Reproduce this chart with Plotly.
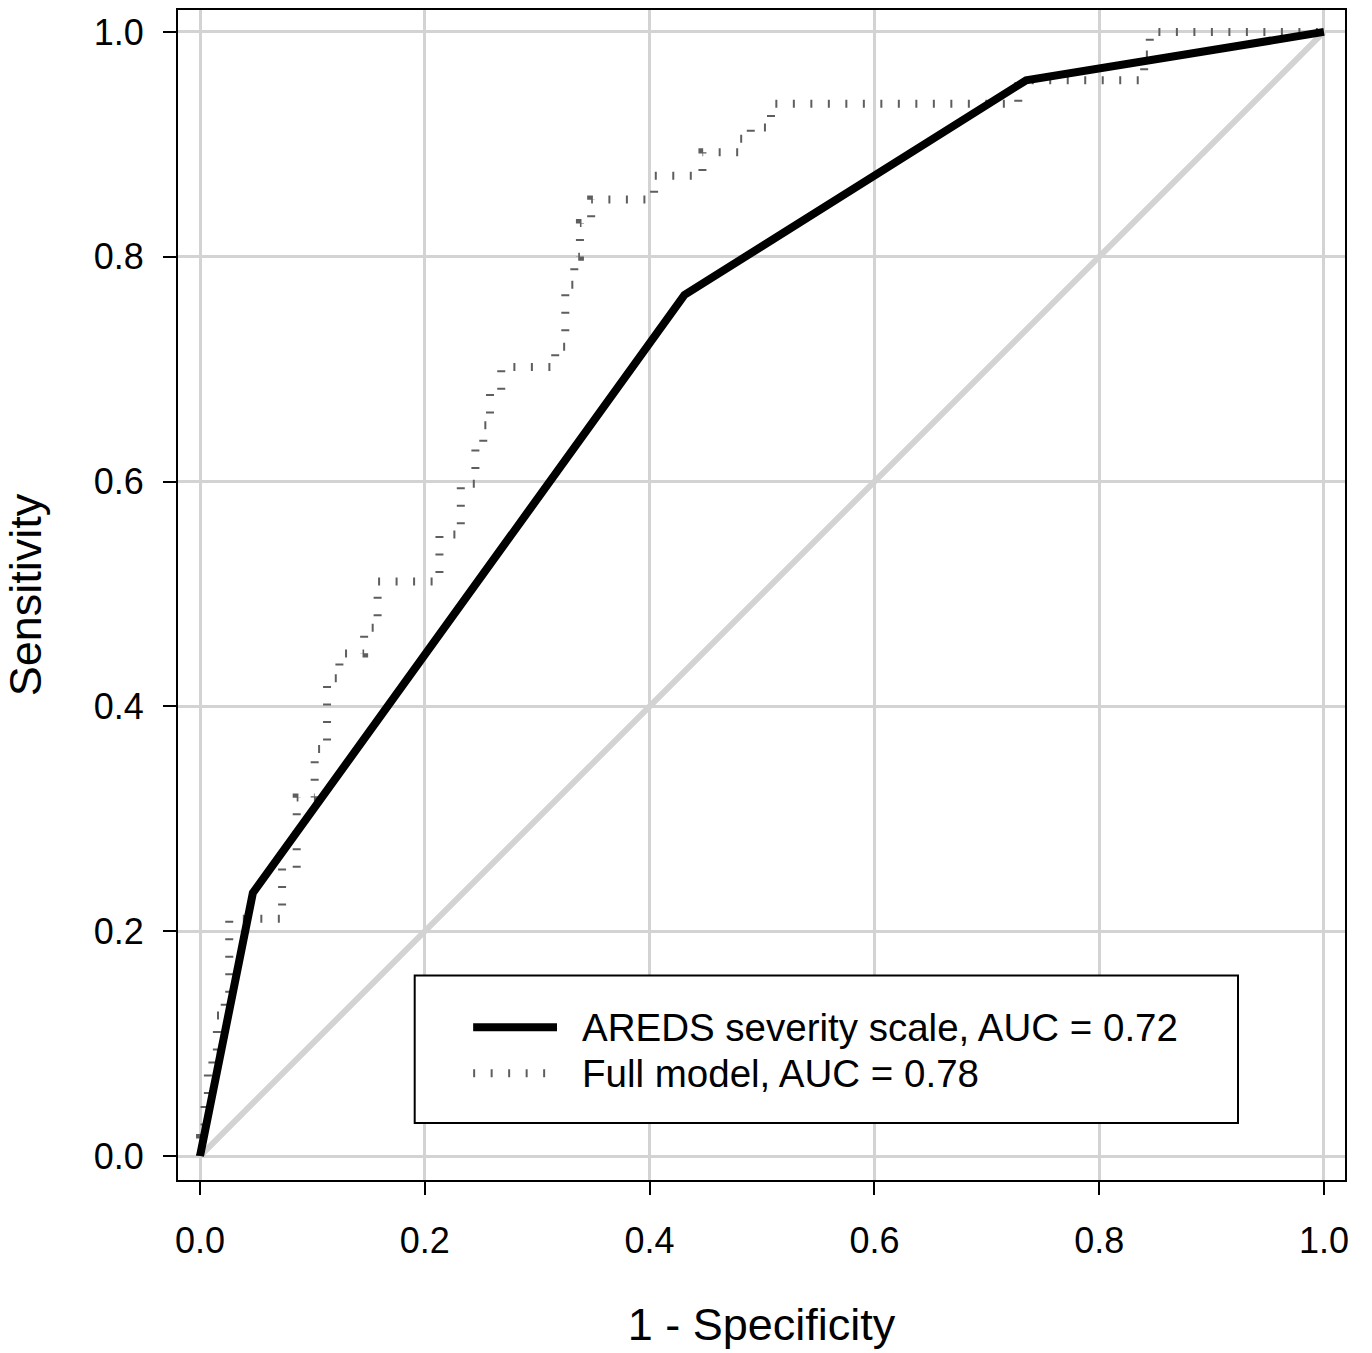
import plotly.graph_objects as go

# ROC coordinates for the AREDS severity scale
areds_fpr = [0.0, 0.047, 0.431, 0.735, 1.0]
areds_tpr = [0.0, 0.234, 0.766, 0.957, 1.0]

# ROC coordinates for the full model (step curve corners)
full_fpr = [0.0, 0.0, 0.004, 0.004, 0.007, 0.007, 0.011, 0.011, 0.015, 0.015,
            0.022, 0.022, 0.026, 0.026, 0.073, 0.073, 0.086, 0.086, 0.102, 0.102,
            0.113, 0.113, 0.124, 0.124, 0.146, 0.146, 0.158, 0.158, 0.213, 0.213,
            0.232, 0.232, 0.245, 0.245, 0.252, 0.252, 0.258, 0.258, 0.268, 0.268,
            0.316, 0.316, 0.325, 0.325, 0.333, 0.333, 0.338, 0.338, 0.348, 0.348,
            0.404, 0.404, 0.447, 0.447, 0.480, 0.480, 0.490, 0.490, 0.508, 0.508,
            0.728, 0.728, 0.840, 0.840, 0.845, 0.845, 1.0]
full_tpr = [0.0, 0.016, 0.016, 0.047, 0.047, 0.078, 0.078, 0.094, 0.094, 0.125,
            0.125, 0.141, 0.141, 0.211, 0.211, 0.256, 0.256, 0.319, 0.319, 0.362,
            0.362, 0.425, 0.425, 0.447, 0.447, 0.470, 0.470, 0.511, 0.511, 0.553,
            0.553, 0.598, 0.598, 0.634, 0.634, 0.650, 0.650, 0.680, 0.680, 0.702,
            0.702, 0.720, 0.720, 0.775, 0.775, 0.800, 0.800, 0.830, 0.830, 0.851,
            0.851, 0.872, 0.872, 0.893, 0.893, 0.905, 0.905, 0.915, 0.915, 0.936,
            0.936, 0.957, 0.957, 0.980, 0.980, 1.0, 1.0]

# Chance line
chance = [0.0, 1.0]

tick_vals = [0.0, 0.2, 0.4, 0.6, 0.8, 1.0]
tick_text = ["0.0", "0.2", "0.4", "0.6", "0.8", "1.0"]

legend_labels = ["AREDS severity scale, AUC = 0.72", "Full model, AUC = 0.78"]

FONT = "Liberation Sans, Arial, Helvetica, sans-serif"
GRID = "#d3d3d3"
DOT_COLOR = "#5e5e5e"
DOT_DASH = "2px,15.5px"

fig = go.Figure()

fig.add_trace(go.Scatter(
    x=chance, y=chance, mode="lines",
    line=dict(color=GRID, width=6), showlegend=False, hoverinfo="skip"))

fig.add_trace(go.Scatter(
    x=full_fpr, y=full_tpr, mode="lines", name=legend_labels[1],
    line=dict(color=DOT_COLOR, width=8, dash=DOT_DASH), showlegend=False))

fig.add_trace(go.Scatter(
    x=areds_fpr, y=areds_tpr, mode="lines", name=legend_labels[0],
    line=dict(color="black", width=8), showlegend=False))

# Legend box drawn inside the plot area
box_x0, box_x1 = 0.191, 0.9235
box_y0, box_y1 = 0.0293, 0.1607
sample_x0, sample_x1 = 0.243, 0.3176
text_x = 0.338
row_y = [0.1146, 0.0737]

shapes = [
    dict(type="rect", xref="x", yref="y", x0=box_x0, x1=box_x1, y0=box_y0, y1=box_y1,
         line=dict(color="black", width=2), fillcolor="white", layer="above"),
    dict(type="line", xref="x", yref="y", x0=sample_x0, x1=sample_x1, y0=row_y[0], y1=row_y[0],
         line=dict(color="black", width=8), layer="above"),
    dict(type="line", xref="x", yref="y", x0=sample_x0, x1=sample_x1, y0=row_y[1], y1=row_y[1],
         line=dict(color=DOT_COLOR, width=8, dash=DOT_DASH), layer="above"),
]
annotations = [
    dict(x=text_x, y=yy, xref="x", yref="y", text=lab, showarrow=False,
         xanchor="left", yanchor="middle", font=dict(family=FONT, size=38.5, color="black"))
    for lab, yy in zip(legend_labels, row_y)
]

axis_common = dict(
    tickvals=tick_vals, ticktext=tick_text,
    showgrid=True, gridcolor=GRID, gridwidth=2.5,
    zeroline=False, showline=True, mirror=True, linecolor="black", linewidth=2,
    ticks="outside", ticklen=13, tickwidth=2, tickcolor="black",
    tickfont=dict(family=FONT, size=36, color="black"),
)

fig.update_layout(
    width=1372, height=1353,
    margin=dict(l=178, r=27, t=8, b=173),
    paper_bgcolor="white", plot_bgcolor="white",
    font=dict(family=FONT, color="black"),
    shapes=shapes, annotations=annotations,
    xaxis=dict(range=[-0.0196, 1.0187], ticklabelstandoff=15,
               title=dict(text="1 - Specificity", font=dict(family=FONT, size=45), standoff=48),
               **axis_common),
    yaxis=dict(range=[-0.0213, 1.0195], ticklabelstandoff=12,
               title=dict(text="Sensitivity", font=dict(family=FONT, size=45), standoff=38),
               **axis_common),
)

fig.write_html("out.html")
